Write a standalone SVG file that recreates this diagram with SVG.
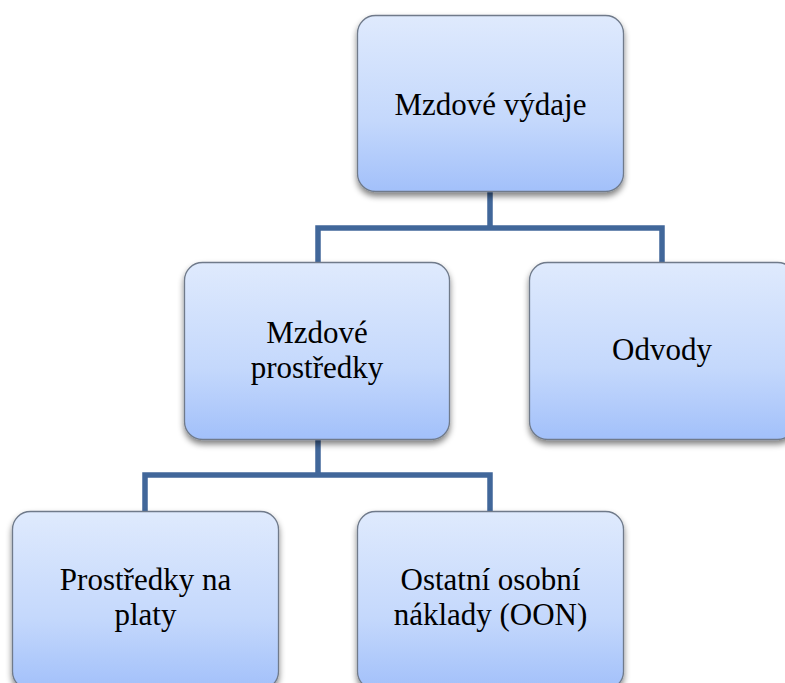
<svg xmlns="http://www.w3.org/2000/svg" width="785" height="683" viewBox="0 0 785 683">
<defs>
<linearGradient id="g" x1="0" y1="0" x2="0" y2="1">
<stop offset="0" stop-color="#dfeafd"/>
<stop offset="0.6" stop-color="#c4d8fc"/>
<stop offset="1" stop-color="#a2c0fa"/>
</linearGradient>
<filter id="sh" x="-10%" y="-10%" width="120%" height="125%">
<feGaussianBlur in="SourceAlpha" stdDeviation="3"/>
<feOffset dx="0" dy="4" result="b"/>
<feComponentTransfer><feFuncA type="linear" slope="0.5"/></feComponentTransfer>
<feMerge><feMergeNode/><feMergeNode in="SourceGraphic"/></feMerge>
</filter>
</defs>
<style>
.box{fill:url(#g);stroke:#6f7a8a;stroke-width:1.3;filter:url(#sh)}
.t{font-family:"Liberation Serif","Times New Roman",serif;font-size:31px;fill:#000;text-anchor:middle}
.c{fill:none;stroke:#41679a;stroke-width:5.5}
</style>
<rect width="785" height="683" fill="#fff"/>
<g id="connectors">
<path class="c" d="M490 192 V228 M318 262 V228 H662 V262"/>
<path class="c" d="M318 440 V475 M145 511 V475 H490 V511"/>
</g>
<g id="n1">
<rect class="box" x="357.5" y="15.5" width="266" height="176" rx="18"/>
<text class="t" x="490.5" y="115">Mzdové výdaje</text>
</g>
<g id="n2">
<rect class="box" x="184.5" y="262.5" width="265" height="177" rx="18"/>
<text class="t" x="317" y="343">Mzdové</text>
<text class="t" x="317" y="378">prostředky</text>
</g>
<g id="n3">
<rect class="box" x="529.5" y="262.5" width="266" height="177" rx="18"/>
<text class="t" x="662" y="360">Odvody</text>
</g>
<g id="n4">
<rect class="box" x="12.5" y="511.5" width="266" height="178" rx="18"/>
<text class="t" x="145.5" y="590">Prostředky na</text>
<text class="t" x="145.5" y="625">platy</text>
</g>
<g id="n5">
<rect class="box" x="357.5" y="511.5" width="266" height="178" rx="18"/>
<text class="t" x="490.5" y="590">Ostatní osobní</text>
<text class="t" x="490.5" y="625">náklady (OON)</text>
</g>
</svg>
